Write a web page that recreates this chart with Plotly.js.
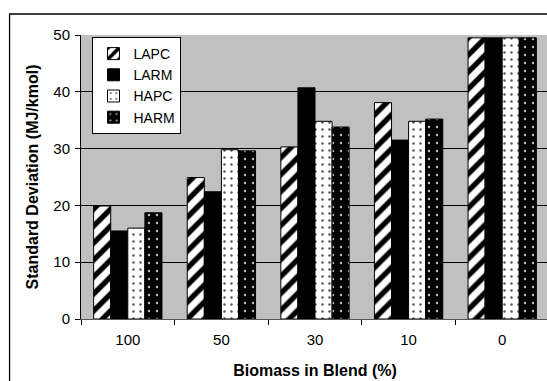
<!DOCTYPE html>
<html>
<head>
<meta charset="utf-8">
<script src="https://cdn.plot.ly/plotly-3.0.1.min.js"></script>
<style>
html,body{margin:0;padding:0;background:#fff;overflow:hidden;}
#chart{width:552px;height:381px;}
</style>
</head>
<body>
<div id="chart"></div>
<script>
const categories = ["100", "50", "30", "10", "0"];
const LAPC = [19.9, 24.9, 30.3, 38.1, 49.5];
const LARM = [15.5, 22.4, 40.7, 31.5, 49.5];
const HAPC = [16.0, 29.8, 34.8, 34.8, 49.5];
const HARM = [18.7, 29.6, 33.8, 35.2, 49.5];
const yTicks = [0, 10, 20, 30, 40, 50];

const W = 552, H = 381;
const M = {l: 80.5, r: 3, t: 35, b: 62};
const pw = W - M.l - M.r, ph = H - M.t - M.b;

function bar(name, y, pattern, color) {
  return {
    type: 'bar', name: name, x: categories, y: y,
    marker: {color: color, line: {color: '#000', width: 1}, pattern: pattern}
  };
}

const data = [
  bar('LAPC', LAPC, {shape: '/', bgcolor: '#fff', fgcolor: '#000', size: 12, solidity: 0.45}, '#fff'),
  bar('LARM', LARM, {shape: ''}, '#000'),
  bar('HAPC', HAPC, {shape: '.', bgcolor: '#fff', fgcolor: '#555', size: 7, solidity: 0.1}, '#fff'),
  bar('HARM', HARM, {shape: '.', bgcolor: '#000', fgcolor: '#bbb', size: 8, solidity: 0.08}, '#000')
];

const layout = {
  width: W, height: H,
  margin: M,
  paper_bgcolor: '#fff',
  plot_bgcolor: '#c0c0c0',
  font: {family: 'Liberation Sans, Arial, sans-serif', size: 15, color: '#000'},
  barmode: 'group', bargap: 0.27, bargroupgap: 0,
  showlegend: true,
  legend: {
    x: (92 - M.l) / pw, y: (H - M.b - 37) / ph, xanchor: 'left', yanchor: 'top',
    bgcolor: '#fff', bordercolor: '#000', borderwidth: 1,
    font: {size: 14}, tracegroupgap: 0, itemwidth: 30
  },
  xaxis: {
    type: 'category', tickmode: 'array', tickvals: categories, ticktext: categories,
    ticks: 'outside', tickson: 'boundaries', ticklen: 5, tickcolor: '#000',
    ticklabelstandoff: 7,
    showline: true, linecolor: '#555', linewidth: 1,
    showgrid: false, zeroline: false,
    tickfont: {size: 15},
    title: {text: 'Biomass in Blend (%)', font: {size: 16, weight: 'bold'}, standoff: 17}
  },
  yaxis: {
    range: [0, 50], tickmode: 'array', tickvals: yTicks,
    ticks: 'outside', ticklen: 5, tickcolor: '#000',
    ticklabelstandoff: 2,
    showline: true, linecolor: '#000', linewidth: 1,
    showgrid: true, gridcolor: '#000', gridwidth: 1, zeroline: false,
    tickfont: {size: 15},
    title: {text: 'Standard Deviation (MJ/kmol)', font: {size: 16, weight: 'bold'}, standoff: 10}
  },
  shapes: [{
    type: 'rect', xref: 'paper', yref: 'paper', layer: 'above',
    x0: (9 - M.l) / pw, x1: 1.2,
    y0: -0.5, y1: (H - M.b - 14) / ph,
    line: {color: '#000', width: 1.3}, fillcolor: 'rgba(0,0,0,0)'
  }]
};

Plotly.newPlot('chart', data, layout, {displayModeBar: false, staticPlot: true});
</script>
</body>
</html>
